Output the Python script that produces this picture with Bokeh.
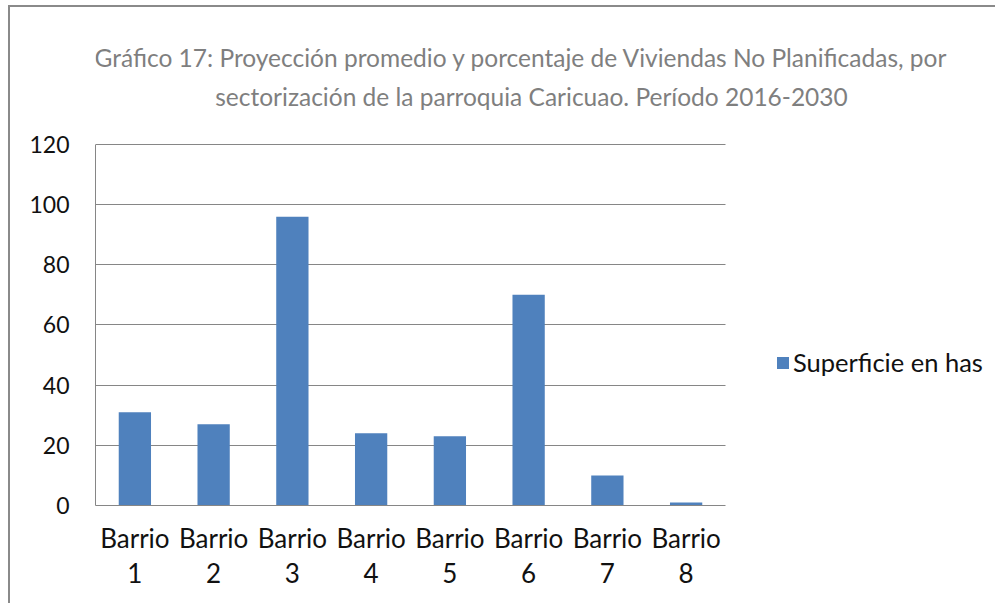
from bokeh.plotting import figure
from bokeh.models import (ColumnDataSource, Legend, LegendItem, Label, Range1d, LinearAxis,
                          FixedTicker, InlineStyleSheet)
from bokeh.embed import file_html
from bokeh.resources import INLINE

categories = ["Barrio 1", "Barrio 2", "Barrio 3", "Barrio 4", "Barrio 5", "Barrio 6", "Barrio 7", "Barrio 8"]
superficie = [31, 27, 96, 24, 23, 70, 10, 1]
series_name = "Superficie en has"
title_lines = [
    "Gráfico 17: Proyección promedio y porcentaje de Viviendas No Planificadas, por",
    "sectorización de la parroquia Caricuao. Período 2016-2030",
]
y_ticks = [0, 20, 40, 60, 80, 100, 120]

FONT = "Lato"
GRAY = "#868686"
TXT = "#111111"

n = len(categories)
centers = [i + 0.5 for i in range(n)]          # category slots on a numeric scale
source = ColumnDataSource(data=dict(x=centers, val=superficie))

# the frame also covers the title and legend area (so nothing is clipped);
# axes and grid lines are bounded to the real plot area
p = figure(
    width=987, height=598,
    x_range=Range1d(0, 11.454),
    y_range=Range1d(0, 165.5),
    output_backend="svg", toolbar_location=None,
    min_border_left=85, min_border_right=0, min_border_top=0, min_border_bottom=100,
    x_axis_type=None,
)
p.stylesheets = [InlineStyleSheet(css=":host { border-left: 2px solid #8a8a8a; border-top: 2px solid #8a8a8a; margin-left: 8px; margin-top: 5px; }")]
p.outline_line_color = None
p.background_fill_color = "white"
p.border_fill_color = "white"

# horizontal grid lines, limited to the category area
p.xgrid.grid_line_color = None
p.ygrid.ticker = FixedTicker(ticks=y_ticks)
p.ygrid.grid_line_color = GRAY
p.ygrid.grid_line_width = 1
try:
    p.ygrid.cross_bounds = (0, n)
except AttributeError:
    p.ygrid.grid_line_color = None
    p.segment(x0=0, x1=n, y0=y_ticks, y1=y_ticks, line_color=GRAY, line_width=1)

r = p.vbar(x="x", top="val", width=0.41, source=source, fill_color="#4F81BD", line_color=None)

# y axis
ya = p.yaxis[0]
ya.ticker = FixedTicker(ticks=y_ticks)
ya.bounds = (0, 120)
ya.major_label_standoff = 20

# two x axes: "Barrio" on the first line, number on the second
name_axis = LinearAxis(ticker=FixedTicker(ticks=centers), bounds=(0, n))
name_axis.major_label_overrides = {c: lab.split(" ")[0] for c, lab in zip(centers, categories)}
name_axis.major_label_standoff = 10
num_axis = LinearAxis(ticker=FixedTicker(ticks=centers), bounds=(0, n))
num_axis.major_label_overrides = {c: lab.split(" ")[1] for c, lab in zip(centers, categories)}
num_axis.major_label_standoff = 0
num_axis.axis_line_color = None
p.add_layout(name_axis, "below")
p.add_layout(num_axis, "below")

for ax in (ya, name_axis, num_axis):
    if ax is not num_axis:
        ax.axis_line_color = GRAY
        ax.axis_line_width = 1
    ax.major_tick_line_color = None
    ax.minor_tick_line_color = None
    ax.major_label_text_font = FONT
    ax.major_label_text_font_size = "23px"
    ax.major_label_text_color = TXT
name_axis.major_label_text_font_size = "26px"
num_axis.major_label_text_font_size = "26px"

# title lines (screen units relative to the frame)
for txt, xx, yy in zip(title_lines, [426, 436], [448, 409]):
    p.add_layout(Label(
        x=xx, y=yy, x_units="screen", y_units="screen", text=txt,
        text_font=FONT, text_font_size="24.5px", text_color="#7f7f7f",
        text_align="center", text_baseline="alphabetic",
    ))

legend = Legend(
    items=[LegendItem(label=series_name, renderers=[r])],
    location=(680, 128), padding=0, margin=0, spacing=0,
    glyph_width=15, glyph_height=15, label_standoff=3,
    label_text_font=FONT, label_text_font_size="25.5px", label_text_color=TXT,
    border_line_color=None, background_fill_alpha=0,
)
p.add_layout(legend, "center")

open("out.html", "w").write(file_html(p, INLINE))
